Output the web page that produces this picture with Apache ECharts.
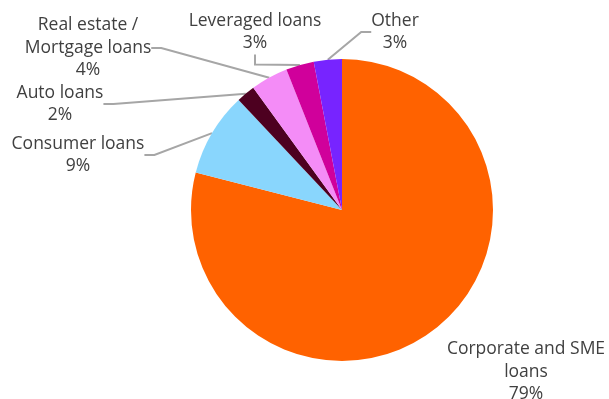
<!DOCTYPE html>
<html>
<head>
<meta charset="utf-8">
<script src="https://cdn.jsdelivr.net/npm/echarts@6/dist/echarts.min.js"></script>
<style>
  html, body { margin: 0; padding: 0; background: #ffffff; }
  #chart { width: 609px; height: 399px; }
</style>
</head>
<body>
<div id="chart"></div>
<script>
// Loan book breakdown by segment (share of total, %)
const categories = [
  'Corporate and SME\nloans',
  'Consumer loans',
  'Auto loans',
  'Real estate /\nMortgage loans',
  'Leveraged loans',
  'Other'
];
const shares = [79, 9, 2, 4, 3, 3];
const colors = ['#FF6200', '#89D6FD', '#4D0020', '#F48CF7', '#D0009B', '#7724FF'];

// Where each label block sits (centre of the text block)
const labelSpots = [
  { x: 526, y: 372 },
  { x: 78, y: 155 },
  { x: 60, y: 104 },
  { x: 88, y: 48 },
  { x: 255, y: 32 },
  { x: 395, y: 32 }
];

const chart = echarts.init(document.getElementById('chart'), null, { renderer: 'canvas' });

chart.setOption({
  animation: false,
  backgroundColor: '#ffffff',
  series: [{
    type: 'pie',
    center: [342, 210],
    radius: [0, 151],
    startAngle: 90,
    clockwise: true,
    avoidLabelOverlap: false,
    data: categories.map((name, i) => ({
      name: name,
      value: shares[i],
      itemStyle: { color: colors[i] },
      labelLine: { show: i !== 0 }
    })),
    itemStyle: { borderWidth: 0 },
    label: {
      show: true,
      position: 'outside',
      formatter: p => p.name + '\n' + p.value + '%',
      fontFamily: 'Open Sans',
      fontSize: 17.5,
      lineHeight: 22.5,
      color: '#404040',
      align: 'center'
    },
    labelLine: {
      show: true,
      length: 10,
      length2: 10,
      lineStyle: { color: '#A6A6A6', width: 2 }
    },
    labelLayout: function (params) {
      const s = labelSpots[params.dataIndex];
      return { x: s.x, y: s.y, align: 'center', verticalAlign: 'middle' };
    }
  }]
});
</script>
</body>
</html>
